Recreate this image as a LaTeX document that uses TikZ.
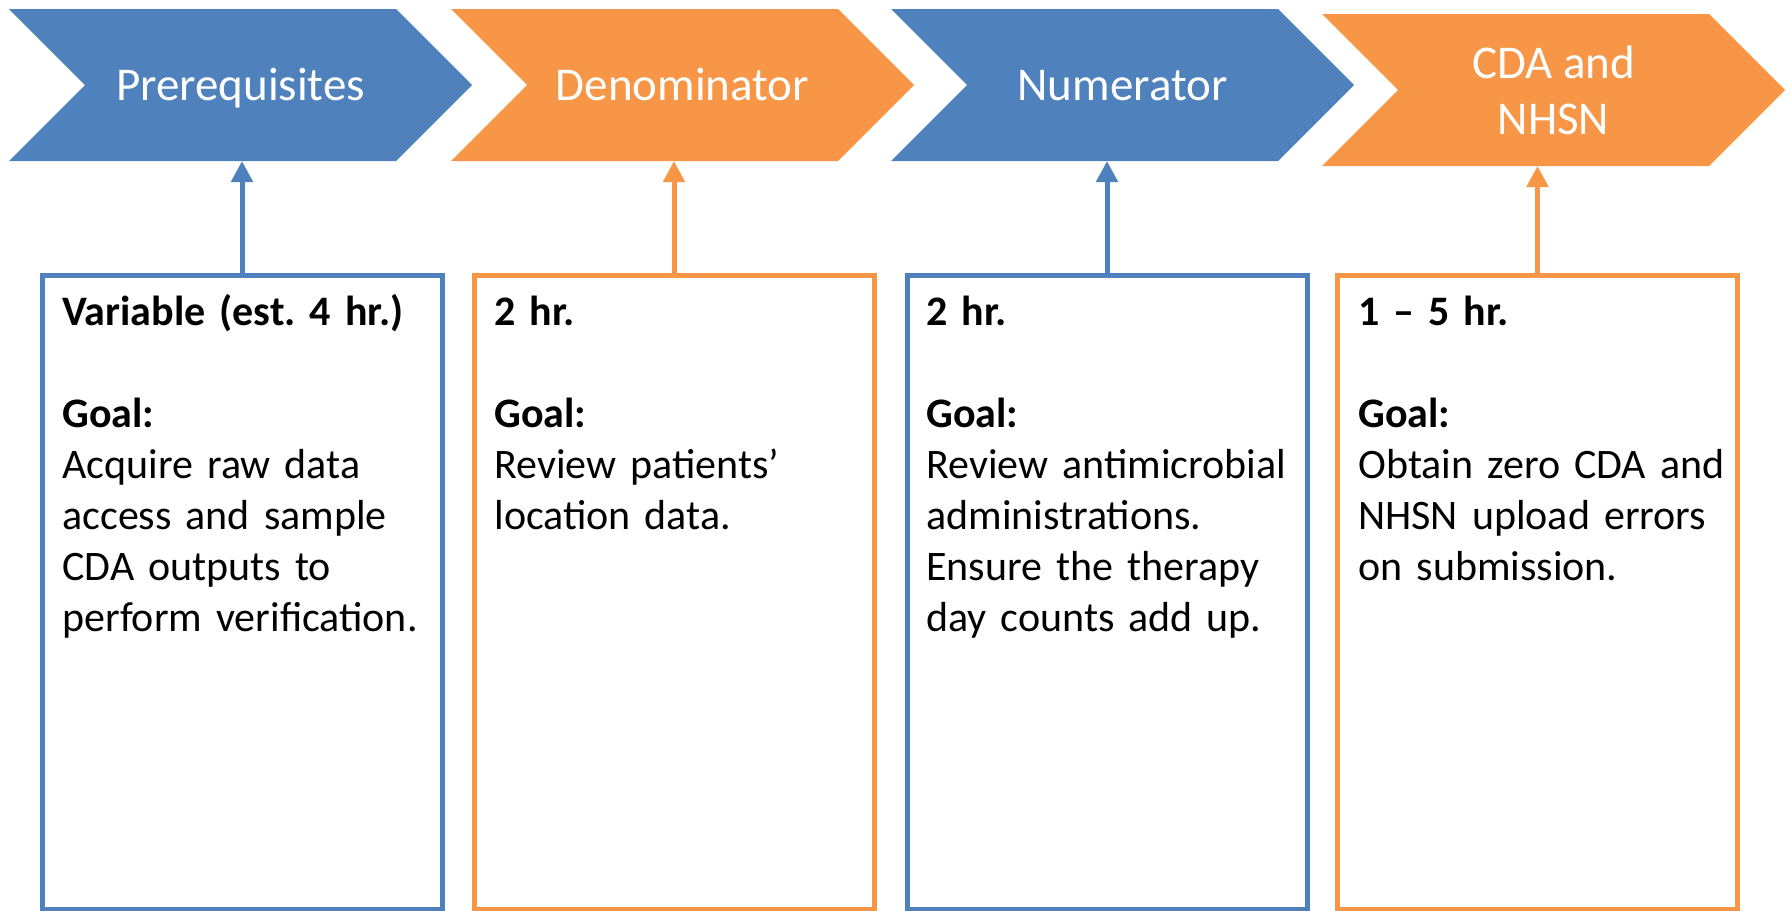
\documentclass[tikz,border=0pt]{standalone}
\usepackage{fontspec}
\setmainfont{Carlito}
\usetikzlibrary{arrows.meta,calc}
\definecolor{cblue}{HTML}{4F81BD}
\definecolor{corange}{HTML}{F79646}
\frenchspacing
\begin{document}
\begin{tikzpicture}[x=0.5pt,y=-0.5pt,
 chev/.style={minimum width=231.5pt, minimum height=76pt, inner sep=0pt, outer sep=0pt,
   text=white, align=center, font=\fontsize{23.5}{28}\selectfont,
   path picture={\fill[#1] (path picture bounding box.north west)
     -- ([xshift=-38pt]path picture bounding box.north east)
     -- (path picture bounding box.east)
     -- ([xshift=-38pt]path picture bounding box.south east)
     -- (path picture bounding box.south west)
     -- ([xshift=38pt]path picture bounding box.west) -- cycle;}},
 oneline/.style={text height=15pt, text depth=0pt},
 goalbox/.style={draw=#1, line width=2.5pt, minimum width=200pt, minimum height=317pt, inner sep=0pt, outer sep=0pt},
 goaltext/.style={anchor=north west, inner sep=0pt, text width=195pt, align=left,
   font=\fontsize{21}{25.5}\selectfont},
 uparrow/.style={draw=#1, line width=2.5pt, -{Triangle[length=10.5pt,width=10.5pt]}}]
\useasboundingbox (0,0) rectangle (1791,910);

\node[chev=cblue, oneline] (c1) at (240.5,85) {Prerequisites};
\node[chev=corange, oneline] (c2) at (682.5,85) {Denominator};
\node[chev=cblue, oneline] (c3) at (1122.5,85) {Numerator};
\node[chev=corange] (c4) at (1553.5,90) {CDA and\\NHSN};

\node[goalbox=cblue] (b1) at (242,592) {};
\node[goalbox=corange] (b2) at (674,592) {};
\node[goalbox=cblue] (b3) at (1107,592) {};
\node[goalbox=corange] (b4) at (1537.5,592) {};

\node[goaltext] (t1) at (62,285) {\rule{0pt}{20pt}\textbf{Variable (est. 4 hr.)}\\[25.5pt]\textbf{Goal:}\\Acquire raw data\\access and sample\\CDA outputs to\\perform verification.};
\node[goaltext] (t2) at (494,285) {\rule{0pt}{20pt}\textbf{2 hr.}\\[25.5pt]\textbf{Goal:}\\Review patients’\\location data.};
\node[goaltext] (t3) at (926,285) {\rule{0pt}{20pt}\textbf{2 hr.}\\[25.5pt]\textbf{Goal:}\\Review antimicrobial\\administrations.\\Ensure the therapy\\day counts add up.};
\node[goaltext] (t4) at (1358,285) {\rule{0pt}{20pt}\textbf{1 – 5 hr.}\\[25.5pt]\textbf{Goal:}\\Obtain zero CDA and\\NHSN upload errors\\on submission.};

\draw[uparrow=cblue] (b1.north) -- (b1.north |- c1.south);
\draw[uparrow=corange] (b2.north) -- (b2.north |- c2.south);
\draw[uparrow=cblue] (b3.north) -- (b3.north |- c3.south);
\draw[uparrow=corange] (b4.north) -- (b4.north |- c4.south);
\end{tikzpicture}
\end{document}
